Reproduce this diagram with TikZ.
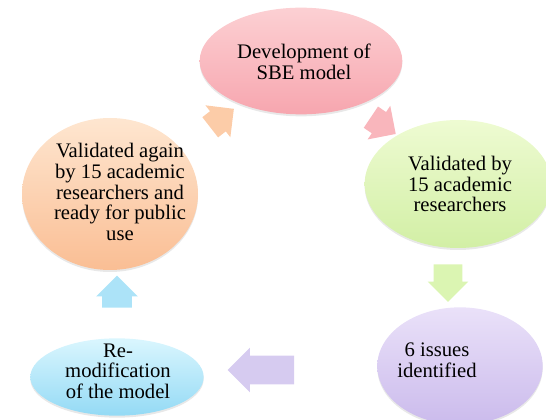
\documentclass[tikz,border=0pt]{standalone}
\usepackage{fontspec}
\setmainfont{Liberation Serif}
\usetikzlibrary{shapes.geometric,shapes.arrows,shadows}

% stage colours (top / bottom of each bubble) and arrow fills
\definecolor{pinktop}{RGB}{252,208,211}
\definecolor{pinkbot}{RGB}{247,166,175}
\definecolor{greentop}{RGB}{238,251,210}
\definecolor{greenbot}{RGB}{210,239,165}
\definecolor{purpletop}{RGB}{234,225,249}
\definecolor{purplebot}{RGB}{203,187,236}
\definecolor{bluetop}{RGB}{218,246,254}
\definecolor{bluebot}{RGB}{148,218,245}
\definecolor{orangetop}{RGB}{254,230,208}
\definecolor{orangebot}{RGB}{250,190,148}
\definecolor{pinkarrow}{RGB}{249,182,188}
\definecolor{greenarrow}{RGB}{219,245,178}
\definecolor{purplearrow}{RGB}{214,203,240}
\definecolor{bluearrow}{RGB}{172,227,248}
\definecolor{orangearrow}{RGB}{252,204,168}

\newfontfamily\stagefont{Liberation Serif}

\tikzset{
  bubble/.style={ellipse, inner sep=0pt, draw=none,
    drop shadow={opacity=0.18, shadow xshift=0pt, shadow yshift=-1.5pt}},
  blurb/.style={align=center, inner sep=0pt,
    font=\stagefont\fontsize{15.5}{15.5}\selectfont},
  % empty arrow: shaft is 2*inner ysep thick
  cyclearrow/.style={single arrow, inner xsep=0pt, draw=none,
    single arrow head extend=4.5pt}
}

\begin{document}
\begin{tikzpicture}[x=0.75pt,y=-0.75pt]
  \useasboundingbox (0,0) rectangle (546,420);
  \clip (0,0) rectangle (546,420);

  % the five stages
  \node[bubble, top color=pinktop, bottom color=pinkbot,
        minimum width=152pt, minimum height=80pt] (dev) at (301,61) {};
  \node[bubble, top color=greentop, bottom color=greenbot,
        minimum width=140pt, minimum height=96pt] (valid) at (458,184) {};
  \node[bubble, top color=purpletop, bottom color=purplebot,
        minimum width=124pt, minimum height=88pt] (issues) at (460,366) {};
  \node[bubble, top color=bluetop, bottom color=bluebot,
        minimum width=130pt, minimum height=58pt] (remod) at (117,377) {};
  \node[bubble, top color=orangetop, bottom color=orangebot,
        minimum width=132pt, minimum height=114pt] (again) at (110,194) {};

  % captions
  \node[blurb] (dev-txt) at (304,62) {Development of\\SBE model};
  \node[blurb] (valid-txt) at (460,184) {Validated by\\15 academic\\researchers};
  \node[blurb] (issues-txt) at (437,360) {6 issues\\identified};
  \node[blurb] (remod-txt) at (118,371) {Re-\\modification\\of the model};
  \node[blurb] (again-txt) at (120,192) {Validated again\\by 15 academic\\researchers and\\ready for public\\use};

  % arrows going round the cycle
  \node[cyclearrow, fill=pinkarrow, rotate=-34, minimum height=22.5pt,
        inner ysep=9.4pt, single arrow head extend=5.6pt] (dev-valid) at (378,122) {};
  \node[cyclearrow, fill=greenarrow, rotate=-90, minimum height=28pt,
        inner ysep=10.5pt] (valid-issues) at (448,276) {};
  \node[cyclearrow, fill=purplearrow, rotate=180, minimum height=50pt,
        inner ysep=10.5pt, single arrow head extend=6pt] (issues-remod) at (268,370) {};
  \node[cyclearrow, fill=bluearrow, rotate=90, minimum height=24pt,
        inner ysep=11pt] (remod-again) at (117,299) {};
  \node[cyclearrow, fill=orangearrow, rotate=38, minimum height=22.5pt,
        inner ysep=9.4pt, single arrow head extend=5.6pt] (again-dev) at (217,122) {};
\end{tikzpicture}
\end{document}
